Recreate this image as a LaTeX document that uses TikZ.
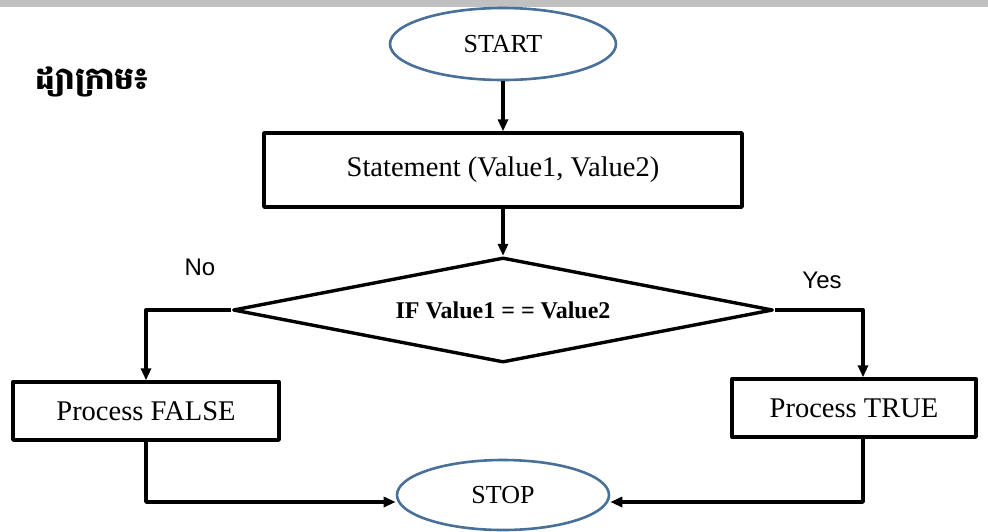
\documentclass[tikz,border=0pt]{standalone}
\usepackage{fontspec}
\setmainfont{Liberation Serif}
\setsansfont{Liberation Sans}
\newfontfamily\khmerfont[Script=Khmer]{Battambang}
\usetikzlibrary{shapes.geometric,arrows.meta}
\definecolor{ovalblue}{RGB}{72,112,152}
\definecolor{bargray}{RGB}{192,192,192}

\begin{document}
\begin{tikzpicture}[x=1pt,y=-1pt,>={Triangle[length=12pt,width=10pt]},line join=round,
  oval/.style={ellipse,draw=ovalblue,line width=2.6pt,inner sep=0pt,font=\fontsize{26}{28}\selectfont},
  box/.style={rectangle,draw,line width=3.4pt,inner sep=0pt,font=\fontsize{28.5}{30}\selectfont},
  test/.style={diamond,draw,line width=3.4pt,aspect=5.14,minimum width=540pt,minimum height=105pt,inner sep=0pt,font=\bfseries\fontsize{24}{26}\selectfont},
  flow/.style={line width=3.4pt},
  answer/.style={font=\sffamily\fontsize{24}{26}\selectfont}]
\useasboundingbox (0,0) rectangle (988,531);
\fill[bargray] (0,0) rectangle (988,7);
\node[font=\khmerfont\bfseries\fontsize{31}{33}\selectfont] (title) at (92,82) {ដ្យាក្រាម៖};
% start / stop
\node[oval,minimum width=226pt,minimum height=72pt] (start) at (503,44) {START};
\node[oval,minimum width=212pt,minimum height=70pt] (stop) at (503,495) {STOP};
% process boxes
\node[box,minimum width=478pt,minimum height=74pt] (stmt) at (503,170) {Statement (Value1, Value2)};
\node[test] (cond) at (503,310) {IF Value1 = = Value2};
\node[box,minimum width=266pt,minimum height=58pt] (false) at (146,411) {Process FALSE};
\node[box,minimum width=244pt,minimum height=58pt] (true) at (854,408) {Process TRUE};
\node[answer] (no) at (200,267) {No};
\node[answer] (yes) at (822,280) {Yes};
% connectors
\draw[flow,->] (start) -- (stmt);
\draw[flow,->] (stmt) -- (cond);
\draw[flow,->] (cond.west) -| (false.north);
\draw[flow,->] (cond.east) -| ([xshift=9pt]true.north);
\draw[flow,->] (false.south) |- ([yshift=-7pt]stop.west);
\draw[flow,->] ([xshift=9pt]true.south) |- ([yshift=-7pt]stop.east);
\end{tikzpicture}
\end{document}
